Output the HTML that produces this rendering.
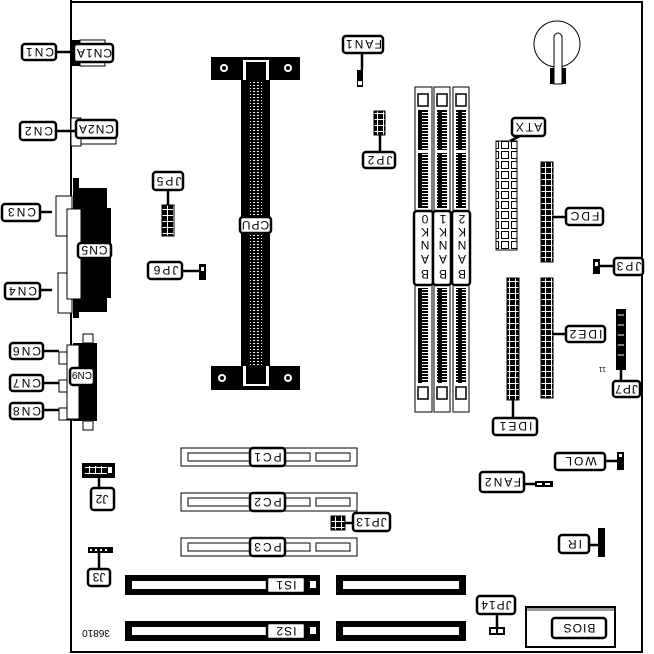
<!DOCTYPE html>
<html><head><meta charset="utf-8"><style>
html,body{margin:0;padding:0;background:#fff}
svg{display:block}
text{font-family:"Liberation Sans",sans-serif;font-size:12px;letter-spacing:2px}
</style></head><body>
<svg width="654" height="654" viewBox="0 0 654 654" xmlns="http://www.w3.org/2000/svg">
<defs>
<pattern id="pins" width="4" height="3" patternUnits="userSpaceOnUse"><rect width="4" height="3" fill="#000"/><rect x="1" y="1" width="2" height="1" fill="#fff"/></pattern>
<pattern id="bpins" width="10" height="3" patternUnits="userSpaceOnUse"><rect width="10" height="3" fill="#000"/><rect x="2" y="1" width="6" height="1" fill="#fff"/></pattern>
<pattern id="hdr" width="6" height="6" patternUnits="userSpaceOnUse"><rect width="6" height="6" fill="#000"/><line x1="0" y1="5.5" x2="6" y2="5.5" stroke="#fff" stroke-width="1"/><line x1="5.5" y1="0" x2="5.5" y2="6" stroke="#fff" stroke-width="1"/></pattern>
<pattern id="atx" width="10" height="10" patternUnits="userSpaceOnUse"><rect x="1.5" y="1.5" width="7" height="7" fill="#fff" stroke="#000" stroke-width="1"/></pattern>
</defs>
<path d="M71 0 V652 H642 V2 H71" fill="none" stroke="#000" stroke-width="2"/>

<rect x="71" y="40" width="9" height="26" fill="#000"/>
<rect x="80" y="40" width="25" height="26" fill="#fff" stroke="#000"/>
<rect x="71" y="118" width="10" height="28" fill="#fff" stroke="#000"/>
<rect x="81" y="120" width="35" height="24" fill="#fff" stroke="#000"/>

<rect x="56" y="196" width="16" height="40" fill="#fff" stroke="#000"/>
<rect x="58" y="273" width="14" height="40" fill="#fff" stroke="#000"/>
<rect x="73" y="178" width="6" height="140" fill="#000"/>
<rect x="79" y="188" width="28" height="124" fill="#000"/>
<rect x="107" y="208" width="4" height="90" fill="#000"/>
<rect x="67" y="209" width="14" height="90" fill="#fff" stroke="#000"/>

<rect x="59" y="352" width="14" height="12" fill="#fff" stroke="#000"/>
<rect x="59" y="380" width="14" height="12" fill="#fff" stroke="#000"/>
<rect x="59" y="408" width="14" height="12" fill="#fff" stroke="#000"/>
<rect x="73" y="343" width="24" height="78" fill="#000"/>
<rect x="67" y="345" width="12" height="74" fill="#fff" stroke="#000"/>
<rect x="83" y="334" width="10" height="9" fill="#fff" stroke="#000"/>
<rect x="83" y="421" width="10" height="9" fill="#fff" stroke="#000"/>

<rect x="211" y="57" width="89" height="23" fill="#000"/>
<rect x="243" y="60" width="26" height="20" fill="#fff"/><rect x="246" y="62" width="20" height="18" fill="#000"/>
<circle cx="224" cy="68" r="4" fill="#fff"/><circle cx="224" cy="68" r="2" fill="#000"/>
<circle cx="288" cy="68" r="4" fill="#fff"/><circle cx="288" cy="68" r="2" fill="#000"/>
<rect x="241" y="80" width="29" height="290" fill="#000"/>
<rect x="250" y="82" width="12" height="286" fill="url(#pins)"/>
<rect x="211" y="366" width="89" height="24" fill="#000"/>
<rect x="243" y="366" width="26" height="20" fill="#fff"/><rect x="246" y="366" width="20" height="18" fill="#000"/>
<circle cx="222" cy="378" r="4" fill="#fff"/><circle cx="222" cy="378" r="2" fill="#000"/>
<circle cx="288" cy="378" r="4" fill="#fff"/><circle cx="288" cy="378" r="2" fill="#000"/>

<rect x="162" y="205" width="12" height="31" fill="url(#hdr)" stroke="#000"/>
<rect x="199" y="264" width="7" height="16" fill="#000"/><rect x="201" y="267" width="3" height="4" fill="#fff"/>

<rect x="357" y="70" width="6" height="17" fill="#000"/><rect x="358" y="81" width="4" height="4" fill="#fff"/>
<rect x="374" y="111" width="11" height="24" fill="url(#hdr)" stroke="#000"/>

<g fill="#fff" stroke="#000">
<rect x="415" y="87" width="17" height="325"/><rect x="434" y="87" width="16" height="325"/><rect x="453" y="87" width="16" height="325"/>
</g>
<g fill="url(#bpins)">
<rect x="418" y="110" width="10" height="40"/><rect x="418" y="153" width="10" height="55"/><rect x="418" y="288" width="10" height="95"/>
<rect x="437" y="110" width="10" height="40"/><rect x="437" y="153" width="10" height="55"/><rect x="437" y="288" width="10" height="95"/>
<rect x="456" y="110" width="10" height="40"/><rect x="456" y="153" width="10" height="55"/><rect x="456" y="288" width="10" height="95"/>
</g>
<g fill="none" stroke="#000" stroke-width="1.5"><rect x="418" y="94" width="10" height="12"/><rect x="437" y="94" width="10" height="12"/><rect x="456" y="94" width="10" height="12"/>
<rect x="418" y="387" width="10" height="12"/><rect x="437" y="387" width="10" height="12"/><rect x="456" y="387" width="10" height="12"/></g>

<circle cx="557" cy="44" r="23" fill="#fff" stroke="#000"/>
<rect x="550" y="68" width="16" height="16" fill="#000"/>
<path d="M554 84 V36 Q558 30 562 36 V84 Z" fill="#fff" stroke="#000"/>

<rect x="496" y="141" width="21" height="109" fill="url(#atx)" stroke="#000"/>
<rect x="541" y="162" width="12" height="100" fill="url(#hdr)" stroke="#000"/>
<rect x="507" y="278" width="12" height="122" fill="url(#hdr)" stroke="#000"/>
<rect x="541" y="278" width="12" height="120" fill="url(#hdr)" stroke="#000"/>
<rect x="616" y="309" width="10" height="61" fill="#000"/>
<g stroke="#fff"><line x1="618" y1="315" x2="624" y2="315"/><line x1="618" y1="325" x2="624" y2="325"/><line x1="618" y1="335" x2="624" y2="335"/><line x1="618" y1="345" x2="624" y2="345"/><line x1="618" y1="355" x2="624" y2="355"/></g>
<rect x="593" y="259" width="7" height="15" fill="#000"/><rect x="595" y="262" width="3" height="4" fill="#fff"/>
<text x="600" y="373" style="font-size:7px;letter-spacing:0" transform="rotate(180 603 370)">11</text>

<g fill="#fff" stroke="#000">
<rect x="181" y="448" width="176" height="18"/><rect x="188" y="453" width="80" height="8"/><rect x="280" y="453" width="30" height="8"/><rect x="316" y="453" width="34" height="8"/>
<rect x="181" y="493" width="176" height="18"/><rect x="188" y="498" width="80" height="8"/><rect x="280" y="498" width="30" height="8"/><rect x="316" y="498" width="34" height="8"/>
<rect x="181" y="538" width="176" height="18"/><rect x="188" y="543" width="80" height="8"/><rect x="280" y="543" width="30" height="8"/><rect x="316" y="543" width="34" height="8"/>
</g>

<g fill="#000"><rect x="125" y="575" width="195" height="20"/><rect x="336" y="575" width="130" height="20"/>
<rect x="125" y="621" width="195" height="20"/><rect x="336" y="621" width="130" height="20"/></g>
<g fill="#fff"><rect x="132" y="581" width="135" height="8"/><rect x="343" y="581" width="116" height="8"/><rect x="310" y="581" width="6" height="7"/>
<rect x="132" y="627" width="135" height="8"/><rect x="343" y="627" width="116" height="8"/><rect x="310" y="627" width="6" height="7"/></g>

<rect x="82" y="463" width="33" height="15" fill="#000"/><rect x="85" y="466" width="22" height="8" fill="url(#hdr)"/><rect x="108" y="467" width="4" height="6" fill="#fff"/>
<rect x="88" y="547" width="25" height="6" fill="#000"/><g fill="#fff"><rect x="90" y="549" width="2" height="2"/><rect x="95" y="549" width="2" height="2"/><rect x="100" y="549" width="2" height="2"/><rect x="105" y="549" width="2" height="2"/></g>
<rect x="331" y="516" width="14" height="14" fill="url(#hdr)" stroke="#000"/>
<rect x="535" y="481" width="18" height="6" fill="#000"/><rect x="537" y="483" width="5" height="2" fill="#fff"/><rect x="545" y="483" width="5" height="2" fill="#fff"/>
<rect x="617" y="452" width="7" height="18" fill="#000"/><rect x="619" y="454" width="3" height="3" fill="#fff"/>
<rect x="598" y="528" width="7" height="29" fill="#000"/>
<rect x="489" y="627" width="16" height="8" fill="#000"/><rect x="491" y="629" width="5" height="4" fill="#fff"/><rect x="498" y="629" width="5" height="4" fill="#fff"/>

<rect x="526" y="607" width="89" height="40" fill="#fff" stroke="#000" stroke-width="2"/>
<rect x="527" y="608" width="87" height="3" fill="#000" opacity=".4"/>

<g stroke="#000" stroke-width="2.5" fill="none">
<path d="M56 52 H74"/><path d="M56 131 H76"/><path d="M40 212 H52"/><path d="M40 290 H52"/>
<path d="M43 351 H59"/><path d="M43 383 H59"/><path d="M43 410 H59"/>
<path d="M168 190 V205"/><path d="M182 271 H199"/><path d="M362 53 V70"/><path d="M380 135 V152"/>
<path d="M520 136 L510 141"/><path d="M553 217 H566"/><path d="M600 266 H614"/>
<path d="M513 400 V418"/><path d="M553 334 H566"/><path d="M621 370 V381"/>
<path d="M99 478 V488"/><path d="M345 523 H353"/><path d="M99 553 V569"/>
<path d="M524 484 H535"/><path d="M605 461 H617"/><path d="M589 545 H598"/><path d="M497 614 V627"/>
</g>

<g fill="#fff" stroke="#000" stroke-width="2.5">
<rect x="22" y="44" width="34" height="16" rx="3"/>
<rect x="74" y="44" width="39" height="18" rx="3"/>
<rect x="20" y="122" width="36" height="18" rx="3"/>
<rect x="76" y="120" width="41" height="18" rx="3"/>
<rect x="2" y="204" width="38" height="17" rx="3"/>
<rect x="5" y="283" width="35" height="16" rx="3"/>
<rect x="78" y="243" width="33" height="15" rx="3"/>
<rect x="10" y="343" width="33" height="16" rx="3"/>
<rect x="10" y="375" width="33" height="16" rx="3"/>
<rect x="10" y="403" width="33" height="16" rx="3"/>
<rect x="70" y="368" width="24" height="17" rx="3"/>
<rect x="153" y="172" width="30" height="18" rx="3"/>
<rect x="148" y="262" width="34" height="17" rx="3"/>
<rect x="240" y="217" width="31" height="16" rx="3"/>
<rect x="343" y="36" width="40" height="17" rx="3"/>
<rect x="363" y="152" width="32" height="16" rx="3"/>
<rect x="414" y="211" width="19" height="74" rx="3"/>
<rect x="433" y="211" width="18" height="74" rx="3"/>
<rect x="452" y="211" width="18" height="74" rx="3"/>
<rect x="512" y="118" width="33" height="18" rx="3"/>
<rect x="566" y="208" width="37" height="17" rx="3"/>
<rect x="614" y="258" width="29" height="17" rx="3"/>
<rect x="493" y="418" width="44" height="17" rx="3"/>
<rect x="566" y="326" width="39" height="16" rx="3"/>
<rect x="613" y="381" width="27" height="16" rx="3"/>
<rect x="250" y="448" width="35" height="18" rx="3"/>
<rect x="250" y="493" width="35" height="18" rx="3"/>
<rect x="250" y="538" width="35" height="18" rx="3"/>
<rect x="91" y="488" width="23" height="22" rx="3"/>
<rect x="353" y="513" width="37" height="18" rx="3"/>
<rect x="88" y="569" width="22" height="17" rx="3"/>
<rect x="267" y="577" width="38" height="16" rx="2"/>
<rect x="267" y="623" width="38" height="16" rx="2"/>
<rect x="480" y="472" width="44" height="20" rx="3"/>
<rect x="555" y="453" width="50" height="17" rx="3"/>
<rect x="559" y="535" width="30" height="18" rx="3"/>
<rect x="477" y="596" width="38" height="18" rx="3"/>
<rect x="552" y="618" width="54" height="20" rx="3"/>
</g>
<g text-anchor="middle">
<text transform="translate(39,52) rotate(180)" dy="4">CN1</text>
<text transform="translate(94,53) rotate(180)" dy="4" style="letter-spacing:1px">CN1A</text>
<text transform="translate(38,131) rotate(180)" dy="4">CN2</text>
<text transform="translate(96,129) rotate(180)" dy="4" style="letter-spacing:1px">CN2A</text>
<text transform="translate(21,212) rotate(180)" dy="4">CN3</text>
<text transform="translate(22,291) rotate(180)" dy="4">CN4</text>
<text transform="translate(94,250) rotate(180)" dy="4" style="letter-spacing:1px">CN5</text>
<text transform="translate(26,351) rotate(180)" dy="4">CN6</text>
<text transform="translate(26,383) rotate(180)" dy="4">CN7</text>
<text transform="translate(26,411) rotate(180)" dy="4">CN8</text>
<text transform="translate(82,376) rotate(180)" dy="4" style="letter-spacing:0;font-size:10px">CN9</text>
<text transform="translate(168,181) rotate(180)" dy="4">JP5</text>
<text transform="translate(165,270) rotate(180)" dy="4">JP6</text>
<text transform="translate(255,225) rotate(180)" dy="4" style="letter-spacing:1px">CPU</text>
<text transform="translate(363,44) rotate(180)" dy="4">FAN1</text>
<text transform="translate(379,160) rotate(180)" dy="4">JP2</text>
<text transform="translate(528,127) rotate(180)" dy="4">ATX</text>
<text transform="translate(584,216) rotate(180)" dy="4">FDC</text>
<text transform="translate(628,266) rotate(180)" dy="4">JP3</text>
<text transform="translate(515,426) rotate(180)" dy="4">IDE1</text>
<text transform="translate(585,334) rotate(180)" dy="4">IDE2</text>
<text transform="translate(626,389) rotate(180)" dy="4" style="letter-spacing:1px">JP7</text>
<text transform="translate(267,457) rotate(180)" dy="4">PC1</text>
<text transform="translate(267,502) rotate(180)" dy="4">PC2</text>
<text transform="translate(267,547) rotate(180)" dy="4">PC3</text>
<text transform="translate(102,499) rotate(180)" dy="4" style="letter-spacing:0">J2</text>
<text transform="translate(371,522) rotate(180)" dy="4" style="letter-spacing:1px">JP13</text>
<text transform="translate(99,577) rotate(180)" dy="4" style="letter-spacing:0">J3</text>
<text transform="translate(286,585) rotate(180)" dy="4" style="letter-spacing:1px">IS1</text>
<text transform="translate(286,631) rotate(180)" dy="4" style="letter-spacing:1px">IS2</text>
<text transform="translate(502,482) rotate(180)" dy="4">FAN2</text>
<text transform="translate(580,461) rotate(180)" dy="4">WOL</text>
<text transform="translate(574,544) rotate(180)" dy="4">IR</text>
<text transform="translate(496,605) rotate(180)" dy="4" style="letter-spacing:1px">JP14</text>
<text transform="translate(579,628) rotate(180)" dy="4" style="letter-spacing:1px">BIOS</text>
<text transform="translate(96,634) rotate(180)" dy="4" style="font-size:10px;letter-spacing:0">36810</text>
</g>
<g text-anchor="middle">
<text transform="translate(424,274) rotate(180)" dy="4">B</text><text transform="translate(424,259) rotate(180)" dy="4">A</text><text transform="translate(424,245) rotate(180)" dy="4">N</text><text transform="translate(424,232) rotate(180)" dy="4">K</text><text transform="translate(424,219) rotate(180)" dy="4">0</text>
<text transform="translate(442,274) rotate(180)" dy="4">B</text><text transform="translate(442,259) rotate(180)" dy="4">A</text><text transform="translate(442,245) rotate(180)" dy="4">N</text><text transform="translate(442,232) rotate(180)" dy="4">K</text><text transform="translate(442,219) rotate(180)" dy="4">1</text>
<text transform="translate(461,274) rotate(180)" dy="4">B</text><text transform="translate(461,259) rotate(180)" dy="4">A</text><text transform="translate(461,245) rotate(180)" dy="4">N</text><text transform="translate(461,232) rotate(180)" dy="4">K</text><text transform="translate(461,219) rotate(180)" dy="4">2</text>
</g>
</svg>
</body></html>
